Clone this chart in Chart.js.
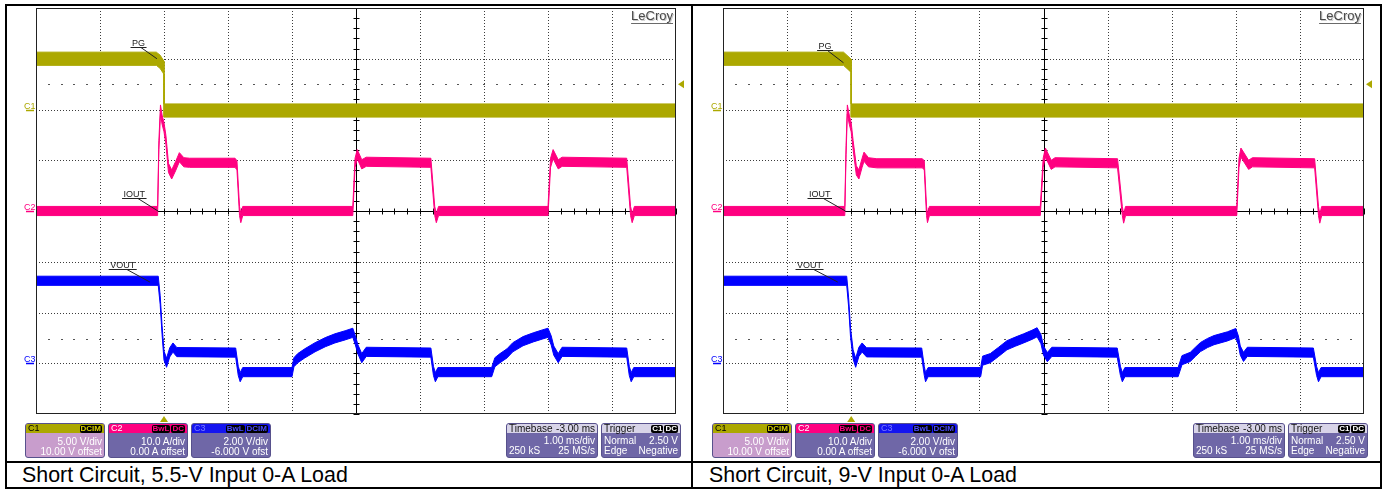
<!DOCTYPE html>
<html>
<head>
<meta charset="utf-8">
<script src="https://cdn.jsdelivr.net/npm/chart.js@4.4.0/dist/chart.umd.min.js"></script>
<style>
  body { margin: 0; background: #fff; width: 1385px; height: 489px; overflow: hidden; position: relative; font-family: "Liberation Sans", Arial, sans-serif; }
  .frame { position: absolute; left: 5px; top: 4px; width: 1377px; height: 485px; border: 2px solid #000; box-sizing: border-box; }
  .vdiv { position: absolute; left: 691px; top: 4px; width: 2px; height: 485px; background: #000; }
  .hdiv { position: absolute; left: 5px; top: 461px; width: 1377px; height: 2px; background: #000; }
  .cap { position: absolute; top: 465px; font-size: 21.4px; line-height: 21px; color: #000; white-space: nowrap; }
  canvas { position: absolute; top: 5px; }
  .box { position: absolute; top: 423px; height: 35px; border: 1px solid #57518c; border-radius: 3px; box-sizing: border-box; overflow: hidden; color: #fff; background: #6f67a7; }
  .hd { height: 9px; line-height: 9px; font-size: 9px; padding: 0 2px; display: flex; justify-content: space-between; align-items: center; }
  .bd { padding: 4px 2px 0 2px; font-size: 10px; line-height: 10px; }
  .row { display: flex; justify-content: space-between; height: 10px; }
  .bdg { background: #000; border-radius: 2px; padding: 0 1px; font-size: 8px; line-height: 8px; font-weight: bold; margin-left: 1px; }
</style>
</head>
<body>
<div class="frame"></div>
<div class="vdiv"></div>
<div class="hdiv"></div>
<canvas id="scopeA" width="685" height="456" style="left:6px"></canvas>
<canvas id="scopeB" width="687" height="456" style="left:693px"></canvas>
<div id="boxes"></div>
<div class="cap" style="left:22px">Short Circuit, 5.5-V Input 0-A Load</div>
<div class="cap" style="left:709px">Short Circuit, 9-V Input 0-A Load</div>

<script>
// time in ms relative to trigger, 1 ms/div, 10 divisions
const gridT = [-2, -1, 0, 1, 2, 3, 4, 5, 6, 7, 8];
const gridDiv = [-4, -3, -2, -1, 0, 1, 2, 3, 4];
const centerT = 3;

// ---- 5.5-V input capture ----
const pgT55 = [-2, -0.12, -0.06, -0.02, 0, 0, 8];
const pgV55 = [5.0, 5.0, 4.7, 4.3, 4.1, -0.1, -0.1];

const ioT55 = [-2, -0.10, -0.08, -0.055, -0.03, 0.0, 0.03, 0.07, 0.12, 0.18, 0.24, 0.31, 0.40, 1.11, 1.14, 1.18, 1.20, 1.23,
  2.95, 2.985, 3.02, 3.09, 3.16, 4.17, 4.23, 4.255, 4.29, 6.0, 6.04, 6.08, 6.16, 6.22, 7.23, 7.29, 7.315, 7.35, 8];
const ioA55 = [0, 0, 13, 20, 18, 16.5, 14, 8.5, 7.2, 8.8, 10.6, 9.6, 9.5, 9.5, 9.0, 0, -1.4, 0,
  0, 9.5, 11.2, 9.2, 9.7, 9.5, 0, -1.4, 0, 0, 9.5, 11.2, 9.2, 9.7, 9.5, 0, -1.4, 0, 0];

const voT55 = [-2, -0.09, -0.06, -0.03, 0.0, 0.04, 0.09, 0.14, 0.2, 1.12, 1.16, 1.19, 1.23, 2.0, 2.03, 2.09, 2.2, 2.36, 2.52, 2.67,
  2.83, 2.95, 2.99, 3.03, 3.09, 3.16, 4.17, 4.21, 4.24, 4.28, 5.12, 5.17, 5.25, 5.36, 5.45, 5.61, 5.77, 5.92, 6.0, 6.05,
  6.09, 6.16, 6.22, 7.23, 7.27, 7.30, 7.34, 8];
const voV55 = [3.25, 3.25, 2.5, 1.3, 0.3, 0.02, 0.43, 0.62, 0.44, 0.42, -0.3, -0.55, -0.35, -0.35, 0.04, 0.2, 0.39, 0.63, 0.83, 0.98,
  1.1, 1.2, 0.9, 0.55, 0.2, 0.45, 0.42, -0.3, -0.55, -0.35, -0.35, 0.04, 0.2, 0.39, 0.63, 0.87, 1.02, 1.14, 1.2, 0.9,
  0.5, 0.2, 0.45, 0.42, -0.3, -0.55, -0.35, -0.35];

// ---- 9-V input capture ----
const pgT9 = [-2, -0.12, -0.05, 0, 0, 8];
const pgV9 = [5.0, 5.0, 4.6, 4.3, -0.1, -0.1];

const ioT9 = [-2, -0.10, -0.08, -0.06, -0.03, 0.0, 0.03, 0.08, 0.12, 0.17, 0.20, 0.27, 0.40, 1.11, 1.14, 1.175, 1.19, 1.22,
  2.95, 2.995, 3.03, 3.12, 3.18, 4.155, 4.23, 4.25, 4.28, 6.015, 6.05, 6.08, 6.2, 6.26, 7.23, 7.29, 7.31, 7.34, 8];
const ioA9 = [0, 0, 12, 20, 18, 16.5, 13, 8, 7.2, 9.5, 10.7, 9.6, 9.4, 9.4, 9.0, 0, -1.4, 0,
  0, 9.5, 11.5, 9.1, 9.6, 9.4, 0, -1.5, 0, 0, 9.5, 11.5, 9.1, 9.6, 9.4, 0, -1.5, 0, 0];

const voT9 = [-2, -0.07, -0.04, -0.01, 0.03, 0.07, 0.12, 0.17, 0.24, 1.10, 1.14, 1.16, 1.2, 2.02, 2.05, 2.17, 2.3, 2.43, 2.56, 2.69,
  2.82, 2.9, 2.96, 3.0, 3.06, 3.13, 4.15, 4.2, 4.23, 4.27, 5.1, 5.16, 5.29, 5.37, 5.45, 5.56, 5.66, 5.87, 6.0, 6.04,
  6.07, 6.12, 6.18, 7.21, 7.26, 7.29, 7.33, 8];
const voV9 = [3.25, 3.25, 2.4, 1.2, 0.35, 0.02, 0.45, 0.62, 0.43, 0.42, -0.3, -0.55, -0.35, -0.35, 0.1, 0.2, 0.45, 0.71, 0.85, 0.98,
  1.12, 1.22, 0.95, 0.5, 0.24, 0.45, 0.42, -0.3, -0.55, -0.35, -0.35, 0.12, 0.25, 0.45, 0.64, 0.8, 0.91, 1.06, 1.19, 0.9,
  0.5, 0.25, 0.45, 0.42, -0.3, -0.55, -0.35, -0.35];

// trace thickness (noise band half width) per channel
const pgBand = 0.65, ioBand = 0.9, voBand = 0.18;

const YEL = '#aca800', PINK = '#ff0080', BLUE = '#0000ff';

// channel info boxes
const chanInfo = [
  { name: 'C1', badges: ['DCIM'], lines: ['5.00 V/div', '10.00 V offset'], head: YEL, headText: '#000', badgeText: '#d8d000', body: '#c89dcc' },
  { name: 'C2', badges: ['BwL', 'DC'], lines: ['10.0 A/div', '0.00 A offset'], head: PINK, headText: '#fff', badgeText: PINK, body: '#6f67a7' },
  { name: 'C3', badges: ['BwL', 'DCIM'], lines: ['2.00 V/div', '-6.000 V ofst'], head: '#1414f0', headText: '#7b7bff', badgeText: '#4a4aff', body: '#6f67a7' }
];
const timebaseRows = [['Timebase', '-3.00 ms'], ['', '1.00 ms/div'], ['250 kS', '25 MS/s']];
const triggerRows = [['Trigger', ''], ['Normal', '2.50 V'], ['Edge', 'Negative']];
const triggerBadges = ['C1', 'DC'];

const channels = [
  { name: 'C1', axis: 'c1', color: YEL },
  { name: 'C2', axis: 'c2', color: PINK },
  { name: 'C3', axis: 'c3', color: BLUE }
];
const levelLines = [{ axis: 'c1', v: 2.5 }, { axis: 'c3', v: 0.95 }];

function band(ts, vs, hw, axis, color) {
  const up = ts.map((t, i) => ({ x: t, y: vs[i] + hw }));
  const lo = ts.map((t, i) => ({ x: t, y: vs[i] - hw }));
  const base = { yAxisID: axis, borderColor: color, borderWidth: 1, pointRadius: 0, tension: 0 };
  return [
    Object.assign({ data: up, fill: false }, base),
    Object.assign({ data: lo, fill: '-1', backgroundColor: color }, base)
  ];
}

function seg(ctx, x1, y1, x2, y2) { ctx.beginPath(); ctx.moveTo(x1, y1); ctx.lineTo(x2, y2); ctx.stroke(); }

const scopePlugin = {
  id: 'scope',
  beforeDatasetsDraw(chart) {
    const { ctx, chartArea: a, scales } = chart;
    const xs = scales.x, ds = scales.div;
    const px = v => Math.round(xs.getPixelForValue(v)) + 0.5;
    const py = v => Math.round(ds.getPixelForValue(v)) + 0.5;
    ctx.save();
    ctx.lineWidth = 1;
    ctx.strokeStyle = '#3c3c3c';
    ctx.setLineDash([1, 2]);
    ctx.beginPath();
    gridT.forEach(t => { if (t > xs.min && t < xs.max && t !== centerT) { ctx.moveTo(px(t), a.top); ctx.lineTo(px(t), a.bottom); } });
    gridDiv.forEach(d => { if (d > ds.min && d < ds.max && d !== 0) { ctx.moveTo(a.left, py(d)); ctx.lineTo(a.right, py(d)); } });
    ctx.stroke();
    ctx.setLineDash([]);
    // centre axes with minor ticks
    const cx = px(centerT), cy = py(0);
    ctx.strokeStyle = '#000';
    ctx.beginPath();
    ctx.moveTo(cx, a.top); ctx.lineTo(cx, a.bottom);
    ctx.moveTo(a.left, cy); ctx.lineTo(a.right, cy);
    for (let i = 0; i <= 50; i++) { const x = px(xs.min + i * 0.2); ctx.moveTo(x, cy - 3); ctx.lineTo(x, cy + 3); }
    for (let i = 0; i <= 40; i++) { const y = py(ds.min + i * 0.2); ctx.moveTo(cx - 3, y); ctx.lineTo(cx + 3, y); }
    ctx.stroke();
    // level dots
    ctx.fillStyle = '#555';
    levelLines.forEach(l => {
      const y = Math.round(scales[l.axis].getPixelForValue(l.v));
      for (let i = 1; i < 50; i++) ctx.fillRect(Math.round(xs.getPixelForValue(xs.min + i * 0.2)) - 1, y, 2, 1);
    });
    ctx.restore();
  },
  afterDatasetsDraw(chart, args, opts) {
    const { ctx, chartArea: a, scales } = chart;
    const xs = scales.x;
    ctx.save();
    ctx.strokeStyle = '#222';
    ctx.lineWidth = 1;
    ctx.strokeRect(a.left + 0.5, a.top + 0.5, a.right - a.left - 1, a.bottom - a.top - 1);

    // channel ground markers
    channels.forEach(c => {
      const y = Math.round(scales[c.axis].getPixelForValue(0)) + 0.5;
      ctx.fillStyle = c.color;
      ctx.font = '9px "Liberation Sans", Arial';
      ctx.textAlign = 'left';
      ctx.fillText(c.name, a.left - 12, y - 2);
      ctx.strokeStyle = c.color;
      ctx.lineWidth = 1.5;
      seg(ctx, a.left - 10, y, a.left - 2, y);
    });

    // trace labels with leaders
    ctx.lineWidth = 1;
    (opts.notes || []).forEach(n => {
      const x = xs.getPixelForValue(n.t), y = scales[n.axis].getPixelForValue(n.v);
      const sx = x + n.dx, sy = Math.round(y + n.dy) + 0.5;
      ctx.font = '9px "Liberation Sans", Arial';
      const w = ctx.measureText(n.text).width + 3;
      const l = sx - w * 0.65;
      ctx.strokeStyle = '#222';
      seg(ctx, l, sy, l + w, sy);
      seg(ctx, sx, sy, x, y);
      ctx.fillStyle = '#222';
      ctx.textAlign = 'center';
      ctx.fillText(n.text, l + w / 2, sy - 2);
    });

    // trigger markers
    ctx.fillStyle = YEL;
    const tx = xs.getPixelForValue(0);
    ctx.beginPath(); ctx.moveTo(tx, a.bottom + 2); ctx.lineTo(tx - 4, a.bottom + 8); ctx.lineTo(tx + 4, a.bottom + 8); ctx.closePath(); ctx.fill();
    const ty = scales.c1.getPixelForValue(2.5);
    ctx.beginPath(); ctx.moveTo(a.right + 2, ty); ctx.lineTo(a.right + 8, ty - 4); ctx.lineTo(a.right + 8, ty + 4); ctx.closePath(); ctx.fill();

    // logo
    ctx.font = '13px "Liberation Sans", Arial';
    ctx.textAlign = 'right';
    ctx.fillStyle = '#c8c8c8';
    ctx.fillText('LeCroy', a.right - 2, a.top + 13);
    ctx.fillStyle = '#4a4a4a';
    ctx.fillText('LeCroy', a.right - 3, a.top + 12);
    const lw = ctx.measureText('LeCroy').width;
    ctx.strokeStyle = '#6a6a6a';
    seg(ctx, a.right - 3 - lw, a.top + 15.5, a.right - 3, a.top + 15.5);
    ctx.restore();
  }
};

function makeScope(id, pad, pg, io, vo, notes) {
  const datasets = [].concat(
    band(io[0], io[1], ioBand, 'c2', PINK),
    band(vo[0], vo[1], voBand, 'c3', BLUE),
    band(pg[0], pg[1], pgBand, 'c1', YEL)
  );
  return new Chart(document.getElementById(id), {
    type: 'line',
    data: { datasets },
    options: {
      responsive: false,
      animation: false,
      events: [],
      layout: { padding: pad },
      plugins: { legend: { display: false }, tooltip: { enabled: false }, scope: { notes } },
      scales: {
        x: { type: 'linear', min: -2, max: 8, display: false },
        c1: { type: 'linear', position: 'left', min: -30, max: 10, display: false },   // 5 V/div
        c2: { type: 'linear', position: 'left', min: -40, max: 40, display: false },   // 10 A/div
        c3: { type: 'linear', position: 'left', min: -2, max: 14, display: false },    // 2 V/div
        div: { type: 'linear', position: 'left', min: -4, max: 4, display: false }
      }
    },
    plugins: [scopePlugin]
  });
}

makeScope('scopeA', { left: 30, top: 3, right: 15, bottom: 47 },
  [pgT55, pgV55], [ioT55, ioA55], [voT55, voV55],
  [
    { text: 'PG', axis: 'c1', t: -0.11, v: 5.0, dx: -16, dy: -12 },
    { text: 'IOUT', axis: 'c2', t: -0.094, v: 0, dx: -20, dy: -13 },
    { text: 'VOUT', axis: 'c3', t: -0.22, v: 3.2, dx: -23, dy: -13 }
  ]);

makeScope('scopeB', { left: 30, top: 3, right: 16, bottom: 47 },
  [pgT9, pgV9], [ioT9, ioA9], [voT9, voV9],
  [
    { text: 'PG', axis: 'c1', t: -0.12, v: 4.6, dx: -16, dy: -13 },
    { text: 'IOUT', axis: 'c2', t: -0.09, v: 0, dx: -22, dy: -13 },
    { text: 'VOUT', axis: 'c3', t: -0.21, v: 3.2, dx: -24, dy: -13 }
  ]);

// info boxes under each screen
function chanBoxHtml(x, c) {
  const badges = c.badges.map(b => `<span class="bdg" style="color:${c.badgeText}">${b}</span>`).join('');
  return `<div class="box" style="left:${x}px;width:80px;background:${c.body}">
    <div class="hd" style="background:${c.head};color:${c.headText}"><span>${c.name}</span><span style="display:flex">${badges}</span></div>
    <div class="bd">${c.lines.map(l => `<div class="row"><span></span><span>${l}</span></div>`).join('')}</div></div>`;
}
function infoBoxHtml(x, w, rows, badges) {
  const right0 = badges ? `<span style="display:flex">${badges.map(b => `<span class="bdg" style="color:#fff">${b}</span>`).join('')}</span>` : `<span>${rows[0][1]}</span>`;
  return `<div class="box" style="left:${x}px;width:${w}px">
    <div class="hd" style="background:#d8d4e8;color:#111;font-size:10px"><span>${rows[0][0]}</span>${right0}</div>
    <div class="bd" style="padding-top:3px">${rows.slice(1).map(r => `<div class="row"><span>${r[0]}</span><span>${r[1]}</span></div>`).join('')}</div></div>`;
}
let html = '';
[0, 687].forEach(off => {
  chanInfo.forEach((c, i) => { html += chanBoxHtml(25 + off + i * 83, c); });
  html += infoBoxHtml(506 + off, 92, timebaseRows);
  html += infoBoxHtml(601 + off, 80, triggerRows, triggerBadges);
});
document.getElementById('boxes').innerHTML = html;
</script>
</body>
</html>
